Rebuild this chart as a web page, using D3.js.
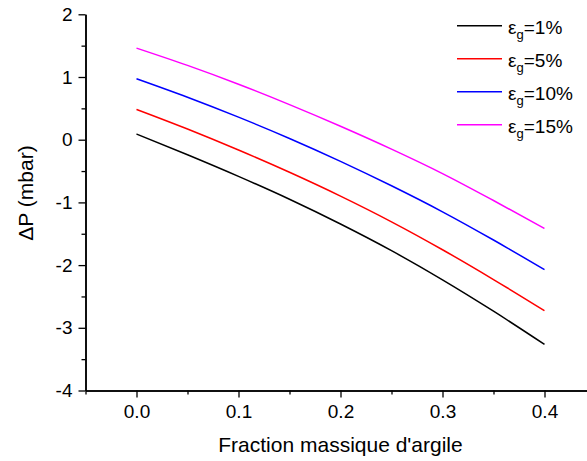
<!DOCTYPE html>
<html>
<head>
<meta charset="utf-8">
<script src="https://cdn.jsdelivr.net/npm/d3@7"></script>
<style>
  html, body { margin: 0; padding: 0; background: #fff; }
  svg { display: block; font-family: "Liberation Sans", Arial, Helvetica, sans-serif; }
</style>
</head>
<body>
<svg id="chart" width="587" height="461"></svg>
<script>
// ---- data ----
const fractions = [0.0, 0.05, 0.1, 0.15, 0.2, 0.25, 0.3, 0.35, 0.4];
const seriesNames = ["1%", "5%", "10%", "15%"];
const seriesColors = ["#000000", "#ff0000", "#0000ff", "#ff00ff"];
const eg1  = [0.09, -0.24, -0.585, -0.95, -1.345, -1.77, -2.235, -2.735, -3.265];
const eg5  = [0.483, 0.17, -0.165, -0.52, -0.9, -1.31, -1.755, -2.23, -2.727];
const eg10 = [0.973, 0.678, 0.36, 0.02, -0.345, -0.735, -1.15, -1.6, -2.073];
const eg15 = [1.461, 1.185, 0.885, 0.56, 0.215, -0.15, -0.54, -0.97, -1.415];
const seriesValues = [eg1, eg5, eg10, eg15];
const xTicks = [0.0, 0.1, 0.2, 0.3, 0.4];
const xMinorTicks = [-0.05, 0.05, 0.15, 0.25, 0.35, 0.45];
const yTicks = [-4, -3, -2, -1, 0, 1, 2];
const yMinorTicks = [-3.5, -2.5, -1.5, -0.5, 0.5, 1.5];
const xTitle = "Fraction massique d'argile";
const yTitle = "ΔP (mbar)";

// ---- layout ----
const svg = d3.select("#chart");
const x = d3.scaleLinear().domain([-0.05, 0.45]).range([85.5, 595.5]);
const y = d3.scaleLinear().domain([-4, 2]).range([390.5, 14.3]);

const hyphenFmt = f => (d => f(d).replace("\u2212", "-"));

// axes
const xAxis = d3.axisBottom(x).tickValues(xTicks).tickFormat(d3.format(".1f")).tickSize(7).tickSizeOuter(0).tickPadding(7);
const xMinor = d3.axisBottom(x).tickValues(xMinorTicks).tickFormat("").tickSize(4).tickSizeOuter(0);
const yAxis = d3.axisLeft(y).tickValues(yTicks).tickFormat(hyphenFmt(d3.format("d"))).tickSize(7).tickSizeOuter(0).tickPadding(6);
const yMinor = d3.axisLeft(y).tickValues(yMinorTicks).tickFormat("").tickSize(4).tickSizeOuter(0);

function styleAxis(g) {
  g.select(".domain").attr("stroke", "#000").attr("stroke-width", 1.5);
  g.selectAll(".tick line").attr("stroke", "#000").attr("stroke-width", 1.3);
  g.selectAll(".tick text").attr("fill", "#000").style("font-size", "19px")
    .style("font-family", "'Liberation Sans', Arial, Helvetica, sans-serif");
}

svg.append("g").attr("transform", `translate(0,${y(-4)})`).call(xMinor).call(styleAxis);
svg.append("g").attr("transform", `translate(0,${y(-4)})`).call(xAxis).call(styleAxis);
svg.append("g").attr("transform", `translate(${x(-0.05)},0)`).call(yMinor).call(styleAxis);
svg.append("g").attr("transform", `translate(${x(-0.05)},0)`).call(yAxis).call(styleAxis);

// axis titles
svg.append("text")
  .attr("x", x(0.2)).attr("y", 452)
  .attr("text-anchor", "middle")
  .style("font-size", "21px").attr("fill", "#000")
  .text(xTitle);
svg.append("text")
  .attr("transform", `translate(33,193) rotate(-90)`)
  .attr("text-anchor", "middle")
  .style("font-size", "21px").attr("fill", "#000")
  .text(yTitle);

// lines
const line = d3.line().x((d, i) => x(fractions[i])).y(d => y(d)).curve(d3.curveMonotoneX);
seriesValues.forEach((vals, k) => {
  svg.append("path")
    .datum(vals)
    .attr("d", line)
    .attr("fill", "none")
    .attr("stroke", seriesColors[k])
    .attr("stroke-width", 1.5);
});

// legend
const legend = svg.append("g");
seriesNames.forEach((name, k) => {
  const ly = 25.7 + k * 33;
  legend.append("line")
    .attr("x1", 457).attr("x2", 502)
    .attr("y1", ly).attr("y2", ly)
    .attr("stroke", seriesColors[k]).attr("stroke-width", 1.5);
  const t = legend.append("text")
    .attr("x", 508).attr("y", ly + 8.5)
    .style("font-size", "19px").attr("fill", "#000");
  t.append("tspan").text("ε");
  t.append("tspan").attr("dy", 5).style("font-size", "13px").text("g");
  t.append("tspan").attr("dy", -5).text("=" + name);
});
</script>
</body>
</html>
